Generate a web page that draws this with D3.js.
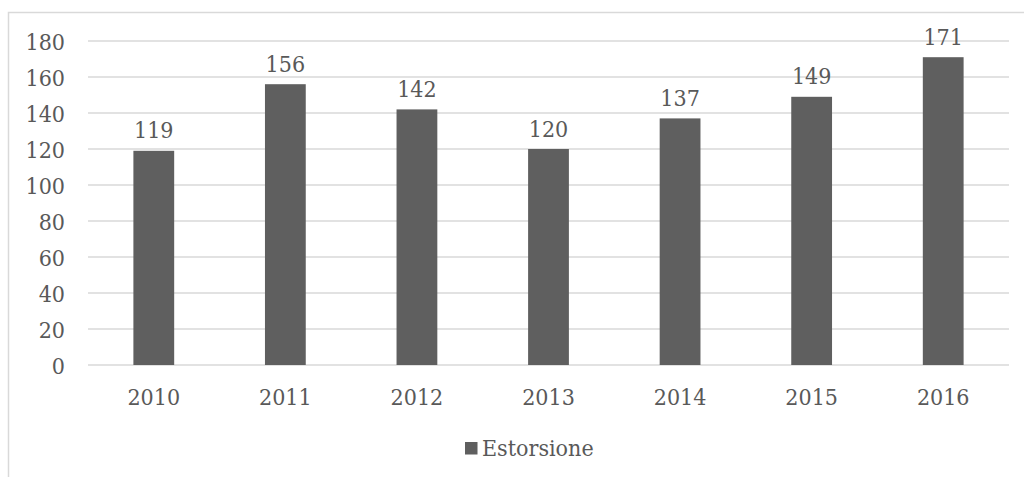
<!DOCTYPE html>
<html>
<head>
<meta charset="utf-8">
<script src="https://cdn.jsdelivr.net/npm/d3@7"></script>
<style>
  body { margin: 0; background: #fff; }
  text { font-family: "DejaVu Serif Condensed", "DejaVu Serif", serif; font-stretch: condensed; fill: #595959; font-size: 23px; }
</style>
</head>
<body>
<svg id="chart" width="1024" height="477"></svg>
<script>
var years = ["2010", "2011", "2012", "2013", "2014", "2015", "2016"];
var values = [119, 156, 142, 120, 137, 149, 171];
var yTicks = [0, 20, 40, 60, 80, 100, 120, 140, 160, 180];
var seriesName = "Estorsione";

var svg = d3.select("#chart");

// chart border (cut off at right and bottom like the source)
svg.append("rect")
  .attr("x", 8.5).attr("y", 12.5)
  .attr("width", 1030).attr("height", 480)
  .attr("fill", "none").attr("stroke", "#d9d9d9").attr("stroke-width", 1.5);

var x = d3.scaleBand().domain(years).range([88, 1009]).paddingInner(0.69).paddingOuter(0.345);
var y = d3.scaleLinear().domain([0, 180]).range([365, 41]);

// gridlines
svg.append("g").selectAll("line")
  .data(yTicks)
  .enter().append("line")
  .attr("x1", 88).attr("x2", 1009)
  .attr("y1", function(d) { return y(d); })
  .attr("y2", function(d) { return y(d); })
  .attr("stroke", "#d9d9d9").attr("stroke-width", 1.3);

// y axis labels
svg.append("g").selectAll("text")
  .data(yTicks)
  .enter().append("text")
  .attr("x", 65)
  .attr("y", function(d) { return y(d) + 8.5; })
  .attr("text-anchor", "end")
  .text(function(d) { return d; });

// x axis labels
svg.append("g").selectAll("text")
  .data(years)
  .enter().append("text")
  .attr("x", function(d) { return x(d) + x.bandwidth() / 2; })
  .attr("y", y(0) + 40)
  .attr("text-anchor", "middle")
  .text(function(d) { return d; });

// bars
svg.append("g").selectAll("rect")
  .data(values)
  .enter().append("rect")
  .attr("x", function(d, i) { return x(years[i]); })
  .attr("y", function(d) { return y(d); })
  .attr("width", x.bandwidth())
  .attr("height", function(d) { return y(0) - y(d); })
  .attr("fill", "#5f5f5f");

// value labels
svg.append("g").selectAll("text")
  .data(values)
  .enter().append("text")
  .attr("x", function(d, i) { return x(years[i]) + x.bandwidth() / 2; })
  .attr("y", function(d) { return y(d) - 12.5; })
  .attr("text-anchor", "middle")
  .text(function(d) { return d; });

// legend
svg.append("rect")
  .attr("x", 465).attr("y", 442)
  .attr("width", 12.5).attr("height", 12.5)
  .attr("fill", "#5f5f5f");
svg.append("text")
  .attr("x", 482).attr("y", 456)
  .text(seriesName);
</script>
</body>
</html>
